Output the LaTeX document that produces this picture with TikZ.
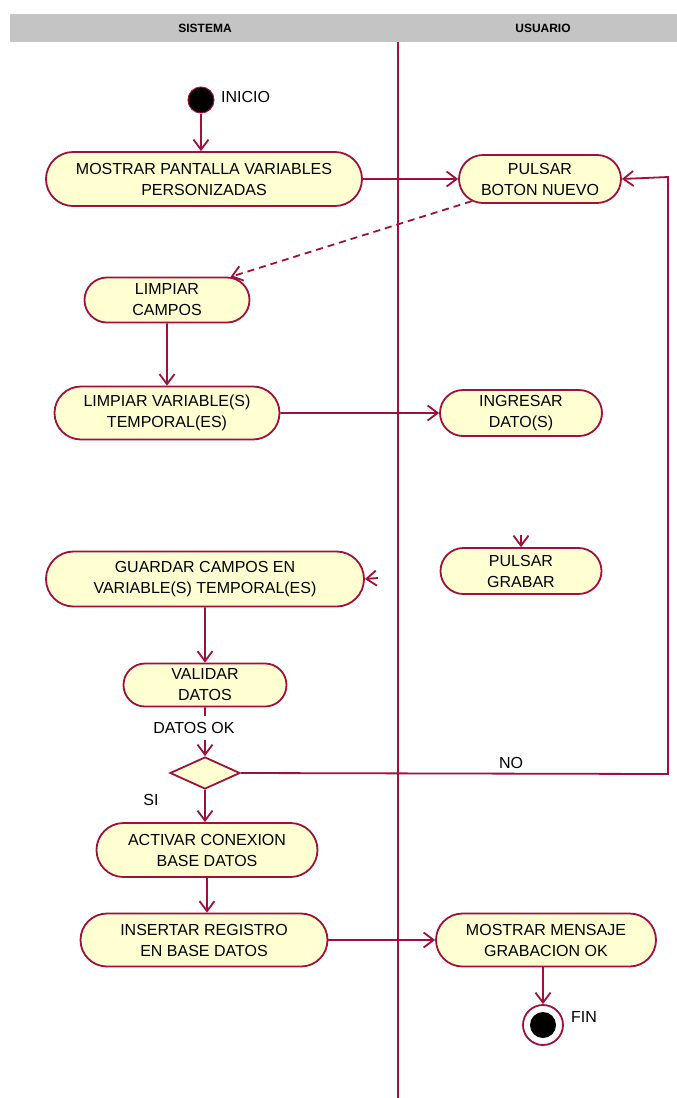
\documentclass[tikz,border=0pt]{standalone}
\usepackage{fontspec}
\setmainfont{Liberation Sans}
\usetikzlibrary{shapes.misc,shapes.geometric,arrows.meta}
\definecolor{flow}{HTML}{A0103C}
\definecolor{actfill}{HTML}{FFFFD2}
\definecolor{lanegray}{HTML}{C4C4C4}
\begin{document}
\begin{tikzpicture}[x=1pt,y=-1pt,
  act/.style={rounded rectangle, draw=flow, fill=actfill, line width=1.8pt,
    align=center, font=\fontsize{16}{21}\selectfont, inner sep=1pt},
  flowarrow/.style={draw=flow, line width=1.8pt, -{Straight Barb[length=10pt,width=15pt]}},
  flowline/.style={draw=flow, line width=1.8pt},
  lbl/.style={font=\fontsize{16}{19}\selectfont, inner sep=0pt},
  lane/.style={font=\bfseries\fontsize{12}{14}\selectfont, inner sep=0pt}
]
\useasboundingbox (0,0) rectangle (677,1098);
\fill[white] (0,0) rectangle (677,1098);

% swimlane header and divider
\fill[lanegray] (10,14) rectangle (677,42);
\node[lane] (sis) at (205,28) {SISTEMA};
\node[lane] (usu) at (543,28) {USUARIO};
\draw[flowline] (398,42) -- (398,1098);

% start and end states
\node[circle, draw=flow, fill=black, line width=1pt, minimum size=26pt, inner sep=0pt] (start) at (201,100) {};
\node[lbl, anchor=west] (inicio) at (221,97) {INICIO};
\node[circle, draw=flow, fill=white, line width=1.8pt, minimum size=40pt, inner sep=0pt] (fin) at (543,1025) {};
\fill[black] (fin.center) circle (13pt);
\node[lbl, anchor=west] (finlbl) at (571,1017) {FIN};

% activities
\node[act, minimum width=318pt, minimum height=54pt] (mostrar) at (204,179) {MOSTRAR PANTALLA VARIABLES\\PERSONIZADAS};
\node[act, minimum width=164pt, minimum height=48pt] (pulsar) at (540,179) {PULSAR\\BOTON NUEVO};
\node[act, minimum width=167pt, minimum height=45pt] (limpiarc) at (167,300) {LIMPIAR\\CAMPOS};
\node[act, minimum width=227pt, minimum height=53pt] (limpiarv) at (167,413) {LIMPIAR VARIABLE(S)\\TEMPORAL(ES)};
\node[act, minimum width=164pt, minimum height=46pt] (ingresar) at (521,413) {INGRESAR\\DATO(S)};
\node[act, minimum width=163pt, minimum height=46pt] (grabar) at (521,571) {PULSAR\\GRABAR};
\node[act, minimum width=320pt, minimum height=55pt] (guardar) at (205,579) {GUARDAR CAMPOS EN\\VARIABLE(S) TEMPORAL(ES)};
\node[act, minimum width=165pt, minimum height=43pt] (validar) at (205,685) {VALIDAR\\DATOS};
\node[diamond, draw=flow, fill=actfill, line width=1.8pt, minimum width=70pt, minimum height=32pt, inner sep=0pt] (dec) at (205,773) {};
\node[act, minimum width=223pt, minimum height=54pt] (activar) at (207,850) {ACTIVAR CONEXION\\BASE DATOS};
\node[act, minimum width=249pt, minimum height=53pt] (insertar) at (204,940) {INSERTAR REGISTRO\\EN BASE DATOS};
\node[act, minimum width=222pt, minimum height=53pt] (mensaje) at (546,940) {MOSTRAR MENSAJE\\GRABACION OK};

% free ends of connectors
\coordinate (grabtail) at (521,535);
\coordinate (guardtail) at (378,578);
\coordinate (loopA) at (668,774);
\coordinate (loopB) at (668,177);

% transitions
\draw[flowarrow] (start) -- (start |- mostrar.north);
\draw[flowarrow] (mostrar.east) -- (pulsar.west);
\draw[flowarrow, dash pattern=on 7pt off 5pt] (pulsar.198) -- (limpiarc.20);
\draw[flowarrow] (limpiarc) -- (limpiarv);
\draw[flowarrow] (limpiarv) -- (ingresar);
\draw[flowarrow] (grabtail) -- (grabar.north);
\draw[flowarrow] (guardtail) -- (guardar.east);
\draw[flowarrow] (guardar) -- (validar);
\draw[flowarrow] (validar) -- (dec);
\draw[flowarrow] (dec) -- (dec |- activar.north);
\draw[flowarrow] (dec.east) -- (loopA) -- (loopB) -- (pulsar.east);
\draw[flowarrow] (activar) -- (activar |- insertar.north);
\draw[flowarrow] (insertar.east) -- (mensaje.west);
\draw[flowarrow] (fin |- mensaje.south) -- (fin.north);

% guard labels, set over the transitions
\node[lbl, fill=white, inner xsep=2pt, inner ysep=6pt] (datosok) at (194,728) {DATOS OK};
\node[lbl] (si) at (151,800) {SI};
\node[lbl] (no) at (511,763) {NO};
\end{tikzpicture}
\end{document}
